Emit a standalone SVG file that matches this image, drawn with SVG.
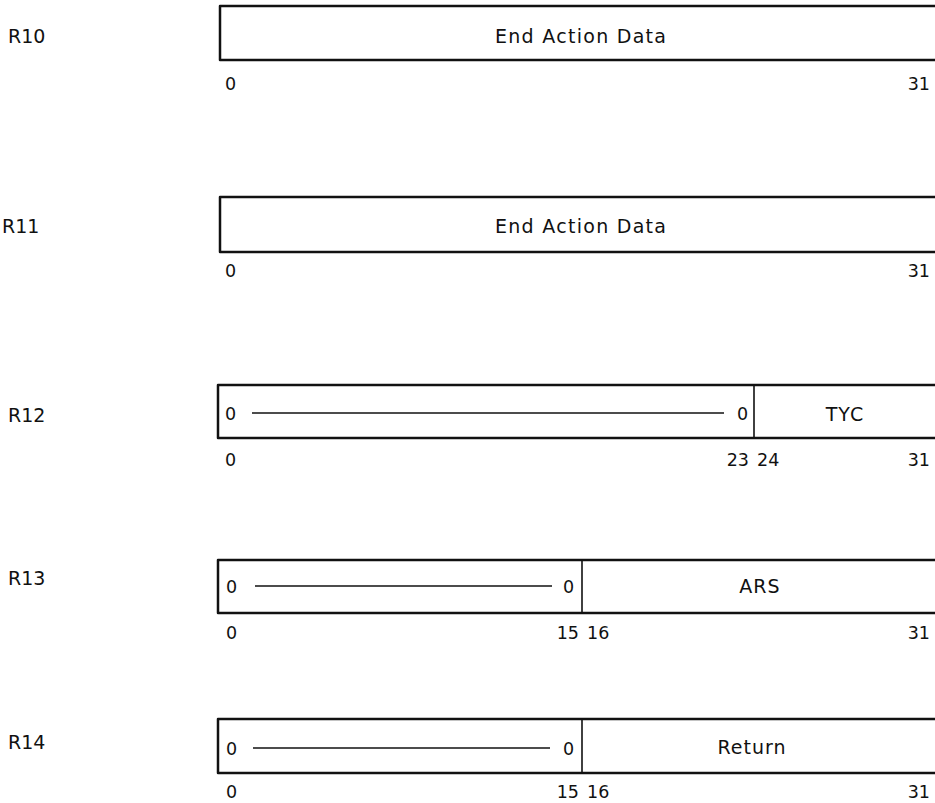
<svg xmlns="http://www.w3.org/2000/svg" width="935" height="803" viewBox="0 0 935 803">
<style>
.box{fill:none;stroke:#111;stroke-width:2.5;stroke-linejoin:round}
.div{stroke:#111;stroke-width:1.6}
.fill{stroke:#111;stroke-width:1.3}
.reg{font-family:"DejaVu Sans","Liberation Sans",sans-serif;font-size:19px;fill:#111}
.fld{font-family:"DejaVu Sans","Liberation Sans",sans-serif;font-size:19px;fill:#111;text-anchor:middle;letter-spacing:1px}
.bit{font-family:"DejaVu Sans","Liberation Sans",sans-serif;font-size:17.5px;fill:#111}
.end{text-anchor:end}
</style>
<rect width="935" height="803" fill="#fff"/>
<g id="R10">
<text class="reg" x="8" y="43">R10</text>
<path class="box" d="M936,6 H220 V60 H936"/>
<text class="fld" x="581" y="43" textLength="172">End Action Data</text>
<text class="bit" x="225" y="90">0</text>
<text class="bit end" x="930" y="90">31</text>
</g>
<g id="R11">
<text class="reg" x="2" y="233">R11</text>
<path class="box" d="M936,197 H220 V252 H936"/>
<text class="fld" x="581" y="233" textLength="172">End Action Data</text>
<text class="bit" x="225" y="277">0</text>
<text class="bit end" x="930" y="277">31</text>
</g>
<g id="R12">
<text class="reg" x="8" y="422">R12</text>
<path class="box" d="M936,385 H218 V438 H936"/>
<line class="div" x1="754" y1="385" x2="754" y2="438"/>
<text class="bit" x="225" y="420">0</text>
<line class="fill" x1="252" y1="413" x2="724" y2="413"/>
<text class="bit" x="737" y="420">0</text>
<text class="fld" x="845" y="421">TYC</text>
<text class="bit" x="225" y="466">0</text>
<text class="bit end" x="749" y="466">23</text>
<text class="bit" x="757" y="466">24</text>
<text class="bit end" x="930" y="466">31</text>
</g>
<g id="R13">
<text class="reg" x="8" y="585">R13</text>
<path class="box" d="M936,560 H218 V613 H936"/>
<line class="div" x1="582" y1="560" x2="582" y2="613"/>
<text class="bit" x="226" y="593">0</text>
<line class="fill" x1="255" y1="586" x2="552" y2="586"/>
<text class="bit" x="563" y="593">0</text>
<text class="fld" x="760" y="593">ARS</text>
<text class="bit" x="226" y="639">0</text>
<text class="bit end" x="579" y="639">15</text>
<text class="bit" x="587" y="639">16</text>
<text class="bit end" x="930" y="639">31</text>
</g>
<g id="R14">
<text class="reg" x="8" y="749">R14</text>
<path class="box" d="M936,719 H218 V773 H936"/>
<line class="div" x1="582" y1="719" x2="582" y2="773"/>
<text class="bit" x="226" y="755">0</text>
<line class="fill" x1="253" y1="748" x2="550" y2="748"/>
<text class="bit" x="563" y="755">0</text>
<text class="fld" x="752" y="754">Return</text>
<text class="bit" x="226" y="798">0</text>
<text class="bit end" x="579" y="798">15</text>
<text class="bit" x="587" y="798">16</text>
<text class="bit end" x="930" y="798">31</text>
</g>
<g id="connectors"></g>
</svg>
